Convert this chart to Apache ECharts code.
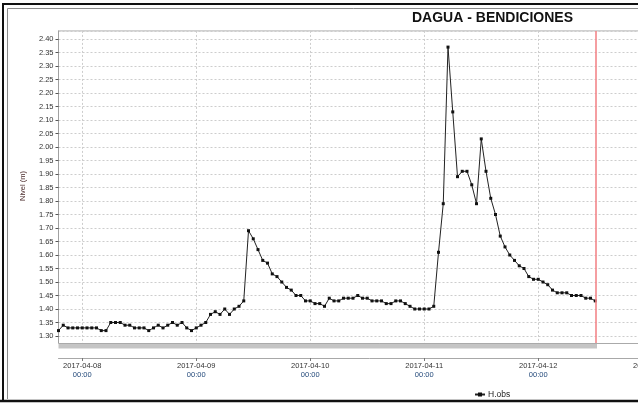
<!DOCTYPE html>
<html>
<head>
<meta charset="utf-8">
<script src="https://cdn.jsdelivr.net/npm/echarts@6/dist/echarts.min.js"></script>
<style>
  html, body { margin: 0; padding: 0; background: #fff; overflow: hidden; width: 638px; height: 403px; }
  /* the plot runs on past the right edge of the window */
  #chart { width: 700px; height: 403px; }
</style>
</head>
<body>
<div id="chart"></div>
<script>
// Station and series names
const chartTitle = 'DAGUA - BENDICIONES';
const seriesName = 'H.obs';
const yAxisName = 'Nivel (m)';

// Hourly observed water level (m), one array per day, with the hour of its first reading
const start0407 = '2017-04-07T19:00:00';
const levels0407 = [1.32, 1.34, 1.33, 1.33, 1.33];
const start0408 = '2017-04-08T00:00:00';
const levels0408 = [1.33, 1.33, 1.33, 1.33, 1.32, 1.32, 1.35, 1.35, 1.35, 1.34, 1.34, 1.33,
                    1.33, 1.33, 1.32, 1.33, 1.34, 1.33, 1.34, 1.35, 1.34, 1.35, 1.33, 1.32];
const start0409 = '2017-04-09T00:00:00';
const levels0409 = [1.33, 1.34, 1.35, 1.38, 1.39, 1.38, 1.40, 1.38, 1.40, 1.41, 1.43, 1.69,
                    1.66, 1.62, 1.58, 1.57, 1.53, 1.52, 1.50, 1.48, 1.47, 1.45, 1.45, 1.43];
const start0410 = '2017-04-10T00:00:00';
const levels0410 = [1.43, 1.42, 1.42, 1.41, 1.44, 1.43, 1.43, 1.44, 1.44, 1.44, 1.45, 1.44,
                    1.44, 1.43, 1.43, 1.43, 1.42, 1.42, 1.43, 1.43, 1.42, 1.41, 1.40, 1.40];
const start0411 = '2017-04-11T00:00:00';
const levels0411 = [1.40, 1.40, 1.41, 1.61, 1.79, 2.37, 2.13, 1.89, 1.91, 1.91, 1.86, 1.79,
                    2.03, 1.91, 1.81, 1.75, 1.67, 1.63, 1.60, 1.58, 1.56, 1.55, 1.52, 1.51];
const start0412 = '2017-04-12T00:00:00';
const levels0412 = [1.51, 1.50, 1.49, 1.47, 1.46, 1.46, 1.46, 1.45, 1.45, 1.45, 1.44, 1.44, 1.43];

// Current-time marker and axis ranges
const nowTime = '2017-04-12T12:00:00';
const xStart = '2017-04-07T19:00:00';
const xEnd = '2017-04-13T06:00:00';
const yMin = 1.25, yMax = 2.43, yStep = 0.05;

const HOUR = 3600 * 1000;
const DAY = 24 * HOUR;

const dailyBlocks = [
  [start0407, levels0407], [start0408, levels0408], [start0409, levels0409],
  [start0410, levels0410], [start0411, levels0411], [start0412, levels0412]
];
const seriesData = [];
dailyBlocks.forEach(([startStr, values]) => {
  const t0 = new Date(startStr).getTime();
  values.forEach((v, i) => seriesData.push([t0 + i * HOUR, v]));
});

const pad = n => (n < 10 ? '0' : '') + n;
const fontFam = 'Liberation Sans, Arial, sans-serif';

const chart = echarts.init(document.getElementById('chart'), null, { renderer: 'canvas' });

const gridLeft = 58.5, gridTop = 30.9, gridWidth = 622.25, gridHeight = 318.6;

chart.setOption({
  animation: false,
  backgroundColor: '#ffffff',
  grid: {
    left: gridLeft, top: gridTop, width: gridWidth, height: gridHeight,
    show: true, borderColor: '#b4b4b4', borderWidth: 1, backgroundColor: 'transparent',
    containLabel: false
  },
  legend: {
    data: [seriesName],
    left: 469, top: 385,
    itemWidth: 10, itemHeight: 5, itemGap: 4,
    textStyle: { fontSize: 8.5, color: '#222', fontFamily: fontFam, padding: [0, 0, 0, -2] }
  },
  xAxis: {
    type: 'time',
    min: new Date(xStart).getTime(),
    max: new Date(xEnd).getTime(),
    minInterval: DAY, maxInterval: DAY,
    offset: 8.5,
    axisLine: { show: true, onZero: false, lineStyle: { color: '#a8a8a8', width: 1 } },
    axisTick: { show: true, length: 3, lineStyle: { color: '#777' } },
    splitLine: { show: true, lineStyle: { color: '#cdcdcd', width: 1, type: [2, 2] } },
    axisLabel: {
      showMinLabel: false, showMaxLabel: false,
      margin: 3,
      hideOverlap: false,
      formatter: function (v) {
        const d = new Date(v);
        const ymd = d.getFullYear() + '-' + pad(d.getMonth() + 1) + '-' + pad(d.getDate());
        const hm = pad(d.getHours()) + ':' + pad(d.getMinutes());
        return '{d|' + ymd + '}\n{t|' + hm + '}';
      },
      rich: {
        d: { fontSize: 7.5, color: '#333', fontFamily: fontFam, lineHeight: 9, align: 'center' },
        t: { fontSize: 7.5, color: '#23497a', fontFamily: fontFam, lineHeight: 9, align: 'center' }
      }
    }
  },
  yAxis: {
    type: 'value',
    min: yMin, max: yMax, interval: yStep,
    axisLine: { show: true, onZero: false, lineStyle: { color: '#a0a0a0', width: 1 } },
    axisTick: { show: true, length: 3, lineStyle: { color: '#555' } },
    splitLine: { show: true, lineStyle: { color: '#cdcdcd', width: 1, type: [2, 2] } },
    axisLabel: {
      showMinLabel: false, showMaxLabel: false,
      margin: 5,
      fontSize: 7.5, color: '#333', fontFamily: fontFam,
      formatter: v => v.toFixed(2)
    }
  },
  series: [{
    name: seriesName,
    type: 'line',
    data: seriesData,
    symbol: 'rect',
    symbolSize: 3,
    showSymbol: true,
    showAllSymbol: true,
    lineStyle: { color: '#222', width: 1 },
    itemStyle: { color: '#111' },
    clip: true,
    z: 3,
    markLine: {
      silent: true,
      symbol: ['none', 'none'],
      label: { show: false },
      lineStyle: { color: '#f3868a', width: 1.6, type: 'solid' },
      data: [{ xAxis: new Date(nowTime).getTime() }]
    }
  }],
  graphic: [
    // white area under the plot frame
    { type: 'rect', z: 100, shape: { x: 48, y: 343.5, width: 660, height: 9 }, style: { fill: '#ffffff' } },
    // data-range band under the plot
    { type: 'rect', z: 101, shape: { x: 58.5, y: 343, width: 538.5, height: 5.5 }, style: { fill: '#c5c5c5' } },
    { type: 'line', z: 102, shape: { x1: 58.5, y1: 343.5, x2: 700, y2: 343.5 }, style: { stroke: '#aaaaaa', lineWidth: 1 } },
    // chart title
    { type: 'text', z: 110, left: 412, top: 11,
      style: { text: chartTitle, font: 'bold 14px "Liberation Sans", Arial, sans-serif', fill: '#111' } },
    // y axis name
    { type: 'text', z: 110, x: 22.5, y: 186, rotation: Math.PI / 2,
      style: { text: yAxisName, font: '7.5px "Liberation Sans", Arial, sans-serif', fill: '#4a2a2a',
               textAlign: 'center', textVerticalAlign: 'middle' } },
    // outer frame
    { type: 'polyline', z: 120, shape: { points: [[3, 402], [3, 4], [700, 4]] }, style: { stroke: '#111', lineWidth: 2, fill: null } },
    { type: 'polyline', z: 120, shape: { points: [[7.5, 399], [7.5, 8.5], [700, 8.5]] }, style: { stroke: '#8c8c8c', lineWidth: 1, fill: null } },
    { type: 'line', z: 120, shape: { x1: 0, y1: 401, x2: 700, y2: 401 }, style: { stroke: '#111', lineWidth: 2.5 } }
  ]
});
</script>
</body>
</html>
